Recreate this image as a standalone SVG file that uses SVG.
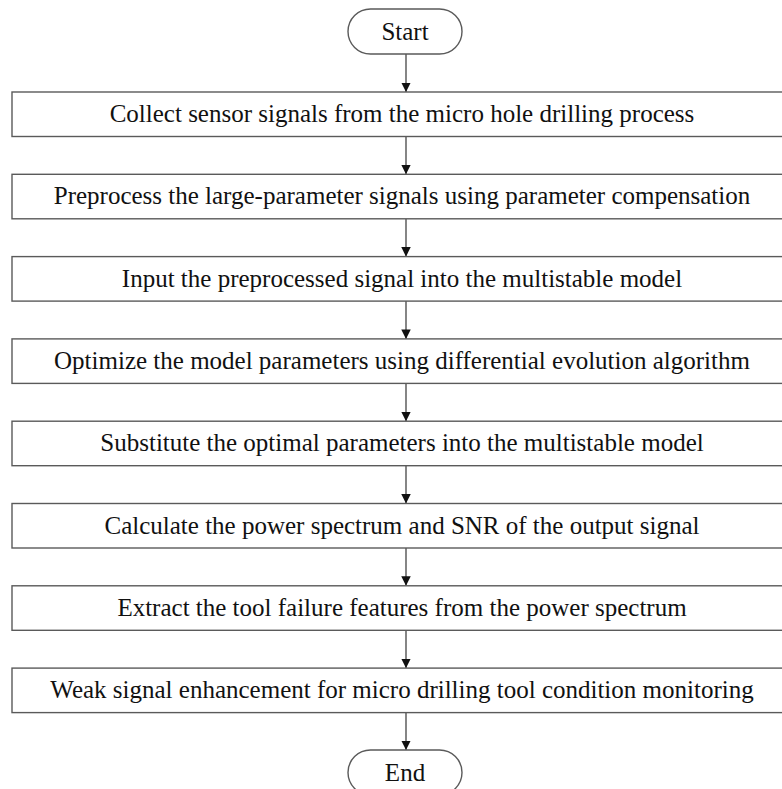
<svg xmlns="http://www.w3.org/2000/svg" width="782" height="789" viewBox="0 0 782 789">
<defs>
<style>
.box{fill:#fff;stroke:#5a5a5a;stroke-width:1.4}
.t{font-family:"Liberation Serif","Times New Roman",serif;font-size:25px;fill:#111;text-anchor:middle}
.c{stroke:#444;stroke-width:1.3;fill:none;marker-end:url(#ah)}
</style>
<marker id="ah" viewBox="0 0 10 10" refX="10" refY="5" markerWidth="9.5" markerHeight="9.5" markerUnits="userSpaceOnUse" orient="auto">
<path d="M0,0 L10,5 L0,10 Z" fill="#111"/>
</marker>
</defs>
<rect width="782" height="789" fill="#fff"/>
<g id="connectors">
<line class="c" x1="406" y1="54" x2="406" y2="92"/>
<line class="c" x1="406" y1="136.5" x2="406" y2="174.3"/>
<line class="c" x1="406" y1="218.8" x2="406" y2="256.6"/>
<line class="c" x1="406" y1="301.1" x2="406" y2="338.9"/>
<line class="c" x1="406" y1="383.4" x2="406" y2="421.2"/>
<line class="c" x1="406" y1="465.7" x2="406" y2="503.5"/>
<line class="c" x1="406" y1="548" x2="406" y2="585.8"/>
<line class="c" x1="406" y1="630.3" x2="406" y2="668.1"/>
<line class="c" x1="406" y1="712.6" x2="406" y2="750"/>
</g>
<g id="start">
<rect class="box" x="348" y="9" width="114" height="45" rx="22.5" ry="22.5"/>
<text class="t" x="405" y="40">Start</text>
</g>
<g id="step1">
<rect class="box" x="12" y="92" width="786" height="44.5"/>
<text class="t" x="402" y="122">Collect sensor signals from the micro hole drilling process</text>
</g>
<g id="step2">
<rect class="box" x="12" y="174.3" width="786" height="44.5"/>
<text class="t" x="402" y="204.3">Preprocess the large-parameter signals using parameter compensation</text>
</g>
<g id="step3">
<rect class="box" x="12" y="256.6" width="786" height="44.5"/>
<text class="t" x="402" y="286.6">Input the preprocessed signal into the multistable model</text>
</g>
<g id="step4">
<rect class="box" x="12" y="338.9" width="786" height="44.5"/>
<text class="t" x="402" y="368.9">Optimize the model parameters using differential evolution algorithm</text>
</g>
<g id="step5">
<rect class="box" x="12" y="421.2" width="786" height="44.5"/>
<text class="t" x="402" y="451.2">Substitute the optimal parameters into the multistable model</text>
</g>
<g id="step6">
<rect class="box" x="12" y="503.5" width="786" height="44.5"/>
<text class="t" x="402" y="533.5">Calculate the power spectrum and SNR of the output signal</text>
</g>
<g id="step7">
<rect class="box" x="12" y="585.8" width="786" height="44.5"/>
<text class="t" x="402" y="615.8">Extract the tool failure features from the power spectrum</text>
</g>
<g id="step8">
<rect class="box" x="12" y="668.1" width="786" height="44.5"/>
<text class="t" x="402" y="698.1">Weak signal enhancement for micro drilling tool condition monitoring</text>
</g>
<g id="end">
<rect class="box" x="348" y="750" width="114" height="45" rx="22.5" ry="22.5"/>
<text class="t" x="405" y="781">End</text>
</g>
</svg>
